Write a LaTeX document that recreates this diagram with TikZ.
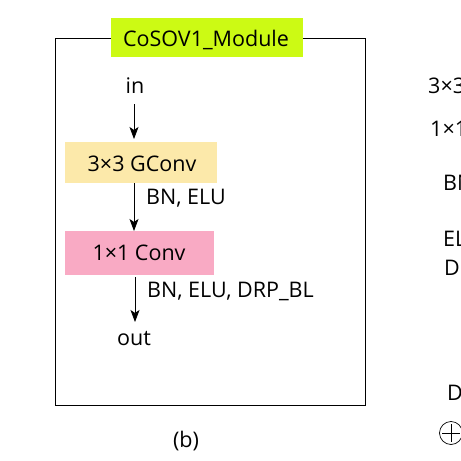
\documentclass[tikz,border=0pt]{standalone}
\usepackage{fontspec}
\setmainfont{Open Sans}
\usetikzlibrary{arrows.meta}
\definecolor{limeg}{RGB}{204,250,20}
\definecolor{yelb}{RGB}{252,233,170}
\definecolor{pinkb}{RGB}{249,170,196}
\begin{document}
\begin{tikzpicture}[x=1pt,y=-1pt,
  lbl/.style={font=\fontsize{21.5}{24}\selectfont, inner sep=0pt},
  boxn/.style={lbl, anchor=center},
  arr/.style={-{Stealth[length=12pt,width=9pt,inset=3pt]}, line width=0.8pt}]
\useasboundingbox (0,0) rectangle (461,461);
\begin{scope}
\clip (0,0) rectangle (461,461);
% frame
\draw[line width=0.9pt] (111,38) -- (55,38) -- (55,405) -- (365,405) -- (365,38) -- (303,38);
\fill[limeg] (111,18) rectangle (303,57);
\node[lbl] (title) at (206,40) {CoSOV1\_Module};
\fill[yelb] (65,142) rectangle (217,183);
\node[boxn] (g) at (142,164) {3×3 GConv};
\fill[pinkb] (65,231) rectangle (214,275);
\node[boxn] (c) at (139,253) {1×1 Conv};
\node[lbl] (in) at (135,86) {in};
\node[lbl] (out) at (134,339) {out};
\coordinate (a1) at (134,104); \coordinate (a1e) at (134,139);
\coordinate (a2) at (134,183); \coordinate (a2e) at (134,231);
\coordinate (a3) at (135,277); \coordinate (a3e) at (135,322);
\draw[arr] (a1) -- (a1e);
\draw[arr] (a2) -- (a2e);
\draw[arr] (a3) -- (a3e);
\node[lbl, anchor=west] (l1) at (146,198) {BN, ELU};
\node[lbl, anchor=west] (l2) at (147,291) {BN, ELU, DRP\_BL};
\node[lbl] (b) at (186,441) {(b)};
% cropped neighbours on the right
\node[lbl, anchor=west] (r1) at (428,86) {3×3};
\node[lbl, anchor=west] (r2) at (430,129) {1×1};
\node[lbl, anchor=west] (r3) at (443,183) {BN};
\node[lbl, anchor=west] (r4) at (443,239) {ELU};
\node[lbl, anchor=west] (r5) at (444,268) {DR};
\node[lbl, anchor=west] (r6) at (447,393) {DR};
\draw[line width=0.7pt] (451,433) circle (11.5);
\draw[line width=0.7pt] (442,433) -- (460,433) (451,424) -- (451,442);
\end{scope}
\end{tikzpicture}
\end{document}
